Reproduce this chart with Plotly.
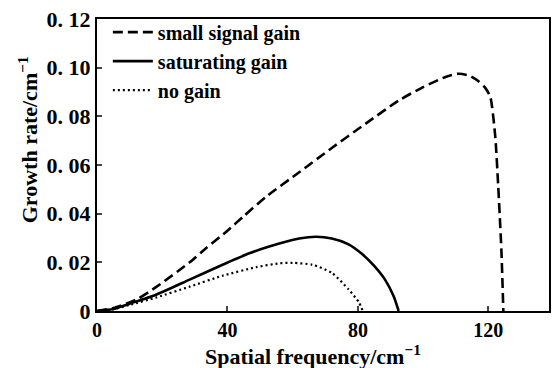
import plotly.graph_objects as go

# small signal gain (dashed)
x_small = [0, 5, 12.2, 18.3, 28.4, 33.6, 40, 45, 51.9, 62, 72, 82.4, 92.5, 100, 106.9, 110.8, 114, 116.9, 119, 120.6, 122.1, 123, 124, 124.6]
y_small = [0, 0.0012, 0.0048, 0.010, 0.020, 0.026, 0.033, 0.039, 0.047, 0.057, 0.067, 0.077, 0.0865, 0.092, 0.0962, 0.0975, 0.0968, 0.0945, 0.0918, 0.088, 0.072, 0.052, 0.025, 0]

# saturating gain (solid)
x_sat = [0, 5, 10, 18.3, 28.4, 38.5, 46.7, 55.9, 62, 67.2, 72, 77, 81.2, 85, 88.5, 91, 92.5]
y_sat = [0, 0.0008, 0.003, 0.0068, 0.0129, 0.019, 0.0237, 0.0277, 0.0298, 0.0305, 0.0298, 0.0275, 0.0235, 0.0185, 0.0125, 0.006, 0]

# no gain (dotted)
x_no = [0, 5, 10, 18.3, 28.4, 38.5, 48.8, 55.9, 60, 66, 72, 77.2, 80.3, 81.5]
y_no = [0, 0.0007, 0.0025, 0.0056, 0.010, 0.0145, 0.018, 0.0196, 0.0198, 0.019, 0.0157, 0.0088, 0.0036, 0]

x_ticks = [0, 40, 80, 120]
y_ticks = [0, 0.02, 0.04, 0.06, 0.08, 0.10, 0.12]
y_tick_labels = ["0", "0. 02", "0. 04", "0. 06", "0. 08", "0. 10", "0. 12"]

x_title = "Spatial frequency/cm<sup>−1</sup>"
y_title = "Growth rate/cm<sup>−1</sup>"

SERIF = "Liberation Serif"

fig = go.Figure()
fig.add_trace(go.Scatter(x=x_small, y=y_small, mode="lines", name="small signal gain",
                         line=dict(color="black", width=2.6, dash="10px,5px", shape="spline", smoothing=0.6)))
fig.add_trace(go.Scatter(x=x_sat, y=y_sat, mode="lines", name="saturating gain",
                         line=dict(color="black", width=2.6, shape="spline", smoothing=0.6)))
fig.add_trace(go.Scatter(x=x_no, y=y_no, mode="lines", name="no gain",
                         line=dict(color="black", width=2.2, dash="2px,3px", shape="spline", smoothing=0.6)))

fig.update_layout(
    width=558, height=368,
    margin=dict(l=97, r=7, t=14, b=57),
    paper_bgcolor="white", plot_bgcolor="white",
    font=dict(family=SERIF, color="black"),
    showlegend=True,
    legend=dict(x=0.024, y=1.022, xanchor="left", yanchor="top",
                bgcolor="rgba(0,0,0,0)", tracegroupgap=0, itemwidth=40,
                font=dict(family=SERIF, size=20, weight="bold", color="black")),
    xaxis=dict(range=[0, 138.6], tickvals=x_ticks, ticks="inside", ticklen=5, tickwidth=2,
               showline=True, linewidth=2, linecolor="black", mirror=True,
               showgrid=False, zeroline=False,
               tickfont=dict(family=SERIF, size=20, weight="bold")),
    yaxis=dict(range=[0, 0.12], tickvals=y_ticks, ticktext=y_tick_labels,
               ticks="inside", ticklen=5, tickwidth=2,
               showline=True, linewidth=2, linecolor="black", mirror=True,
               showgrid=False, zeroline=False,
               tickfont=dict(family=SERIF, size=22, weight="bold")),
    annotations=[
        dict(text=x_title, xref="paper", yref="paper", x=0.478, y=-0.15,
             xanchor="center", yanchor="middle", showarrow=False,
             font=dict(family=SERIF, size=22, weight="bold", color="black")),
        dict(text=y_title, xref="paper", yref="paper", x=-0.154, y=0.586,
             xanchor="center", yanchor="middle", showarrow=False, textangle=-90,
             font=dict(family=SERIF, size=22, weight="bold", color="black")),
    ],
)

fig.write_html("out.html")
